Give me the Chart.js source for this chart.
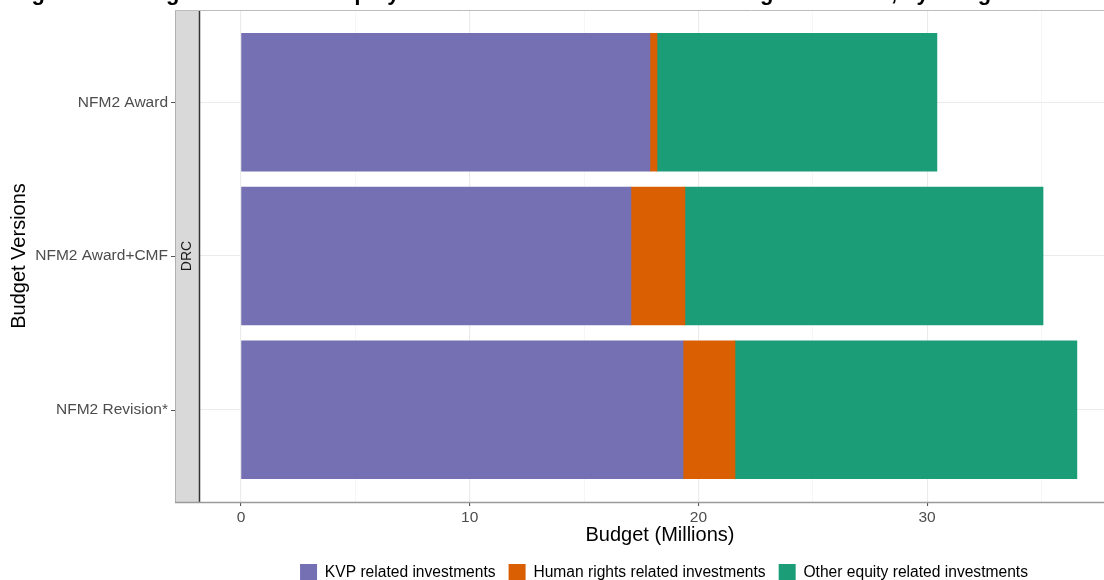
<!DOCTYPE html>
<html><head><meta charset="utf-8">
<script src="https://cdn.jsdelivr.net/npm/chart.js@4/dist/chart.umd.min.js"></script>
<style>html,body{margin:0;padding:0;overflow:hidden;background:#fff;width:1104px;height:580px}canvas{display:block}</style>
</head><body><canvas id="c" width="1328" height="591" style="width:1328px;height:591px"></canvas>
<script>
const categories = ['NFM2 Award', 'NFM2 Award+CMF', 'NFM2 Revision*'];
const kvpValues = [17.88, 17.05, 19.33];
const humanRightsValues = [0.31, 2.36, 2.27];
const otherEquityValues = [12.24, 15.66, 14.95];
const seriesNames = ['KVP related investments', 'Human rights related investments', 'Other equity related investments'];
const seriesColors = ['#7570B3', '#D95F02', '#1B9E77'];
const xMajorTicks = [0, 10, 20, 30, 40];
const xMinorTicks = [5, 15, 25, 35, 45];
const facetLabel = 'DRC';
const titleText = 'Figure 3: Changes in KVP and Equity Related Investments in NFM2 Budget Versions, by Budget Line';
const xTitle = 'Budget (Millions)';
const yTitle = 'Budget Versions';

const FONT = "'Liberation Sans', Arial, sans-serif";

function toPoints(values) {
  return values.map((v, i) => ({ x: v, y: i + 1 }));
}

const decorPlugin = {
  id: 'decor',
  beforeDraw(chart) {
    const ctx = chart.ctx;
    ctx.save();
    ctx.fillStyle = '#fff';
    ctx.fillRect(0, 0, chart.width, chart.height);
    ctx.restore();
  },
  afterDraw(chart) {
    const ctx = chart.ctx;
    const a = chart.chartArea;
    const ys = chart.scales.y;
    const stripL = 175, stripR = a.left;
    ctx.save();
    ctx.fillStyle = '#d9d9d9';
    ctx.fillRect(stripL, a.top, stripR - stripL, a.bottom - a.top);
    ctx.strokeStyle = '#b0b0b0';
    ctx.lineWidth = 1;
    ctx.beginPath(); ctx.moveTo(stripL + 0.5, a.top); ctx.lineTo(stripL + 0.5, a.bottom); ctx.stroke();
    ctx.strokeStyle = '#333';
    ctx.lineWidth = 1.5;
    ctx.beginPath(); ctx.moveTo(stripR - 0.5, a.top); ctx.lineTo(stripR - 0.5, a.bottom); ctx.stroke();
    ctx.save();
    ctx.translate((stripL + stripR) / 2, (a.top + a.bottom) / 2);
    ctx.rotate(-Math.PI / 2);
    ctx.fillStyle = '#1a1a1a';
    ctx.font = '14px ' + FONT;
    ctx.textAlign = 'center';
    ctx.textBaseline = 'middle';
    ctx.fillText(facetLabel, 0, 0);
    ctx.restore();
    ctx.strokeStyle = '#bdbdbd';
    ctx.lineWidth = 1;
    ctx.beginPath(); ctx.moveTo(stripL, a.top + 0.5); ctx.lineTo(chart.width, a.top + 0.5); ctx.stroke();
    ctx.strokeStyle = '#9a9a9a';
    ctx.lineWidth = 1.3;
    ctx.beginPath(); ctx.moveTo(stripL, a.bottom + 0.5); ctx.lineTo(chart.width, a.bottom + 0.5); ctx.stroke();
    ctx.strokeStyle = '#555';
    ctx.lineWidth = 1;
    categories.forEach((c, i) => {
      const py = Math.round(ys.getPixelForValue(i + 1)) + 0.5;
      ctx.beginPath(); ctx.moveTo(171, py); ctx.lineTo(175, py); ctx.stroke();
    });
    ctx.fillStyle = '#000';
    ctx.font = '20px ' + FONT;
    ctx.textAlign = 'center';
    ctx.textBaseline = 'middle';
    ctx.fillText(xTitle, 660, 535);
    ctx.save();
    ctx.translate(19, 256);
    ctx.rotate(-Math.PI / 2);
    ctx.fillText(yTitle, 0, 0);
    ctx.restore();
    ctx.font = 'bold 22px ' + FONT;
    ctx.textAlign = 'left';
    ctx.textBaseline = 'alphabetic';
    ctx.fillText(titleText, 12, 0);
    ctx.restore();
  }
};

new Chart(document.getElementById('c'), {
  type: 'bar',
  data: {
    datasets: [
      { label: seriesNames[0], data: toPoints(kvpValues), backgroundColor: seriesColors[0] },
      { label: seriesNames[1], data: toPoints(humanRightsValues), backgroundColor: seriesColors[1] },
      { label: seriesNames[2], data: toPoints(otherEquityValues), backgroundColor: seriesColors[2] }
    ]
  },
  options: {
    responsive: false,
    animation: false,
    indexAxis: 'y',
    datasets: { bar: { barThickness: 138, borderWidth: 0 } },
    layout: { padding: { top: 10, left: 0, right: 0, bottom: 0 } },
    plugins: {
      legend: {
        position: 'bottom',
        labels: {
          boxWidth: 17, boxHeight: 17, padding: 13,
          color: '#000',
          font: { family: FONT, size: 15.6 }
        }
      },
      tooltip: { enabled: false },
      title: { display: false }
    },
    scales: {
      x: {
        type: 'linear',
        stacked: true,
        min: -1.793,
        max: 47.53,
        afterBuildTicks(scale) {
          scale.ticks = xMajorTicks.concat(xMinorTicks).sort((p, q) => p - q).map(v => ({ value: v }));
        },
        afterFit(scale) { scale.height = 49; scale.paddingLeft = 0; scale.paddingRight = 0; },
        border: { display: false },
        grid: {
          color: c => (c.tick && c.tick.value % 10 === 0) ? '#ebebeb' : '#f4f4f4',
          lineWidth: c => (c.tick && c.tick.value % 10 === 0) ? 1.1 : 0.8,
          tickColor: c => (c.tick && c.tick.value % 10 === 0) ? '#555' : 'rgba(0,0,0,0)',
          tickLength: 4,
          drawTicks: true
        },
        ticks: {
          color: '#4d4d4d',
          padding: 2,
          maxRotation: 0,
          autoSkip: false,
          font: { family: FONT, size: 15.5 },
          callback: v => (v % 10 === 0 ? String(v) : '')
        }
      },
      y: {
        type: 'linear',
        stacked: true,
        reverse: true,
        offset: false,
        min: 0.4,
        max: 3.6,
        afterBuildTicks(scale) {
          scale.ticks = categories.map((c, i) => ({ value: i + 1 }));
        },
        afterFit(scale) { scale.width = 200; scale.paddingTop = 0; scale.paddingBottom = 0; },
        border: { display: false },
        grid: { color: '#ebebeb', lineWidth: 1.1, drawTicks: false, offset: false },
        ticks: {
          color: '#4d4d4d',
          padding: 32,
          autoSkip: false,
          font: { family: FONT, size: 15.5 },
          callback: v => categories[v - 1] || ''
        }
      }
    }
  },
  plugins: [decorPlugin]
});
</script>
</body></html>
